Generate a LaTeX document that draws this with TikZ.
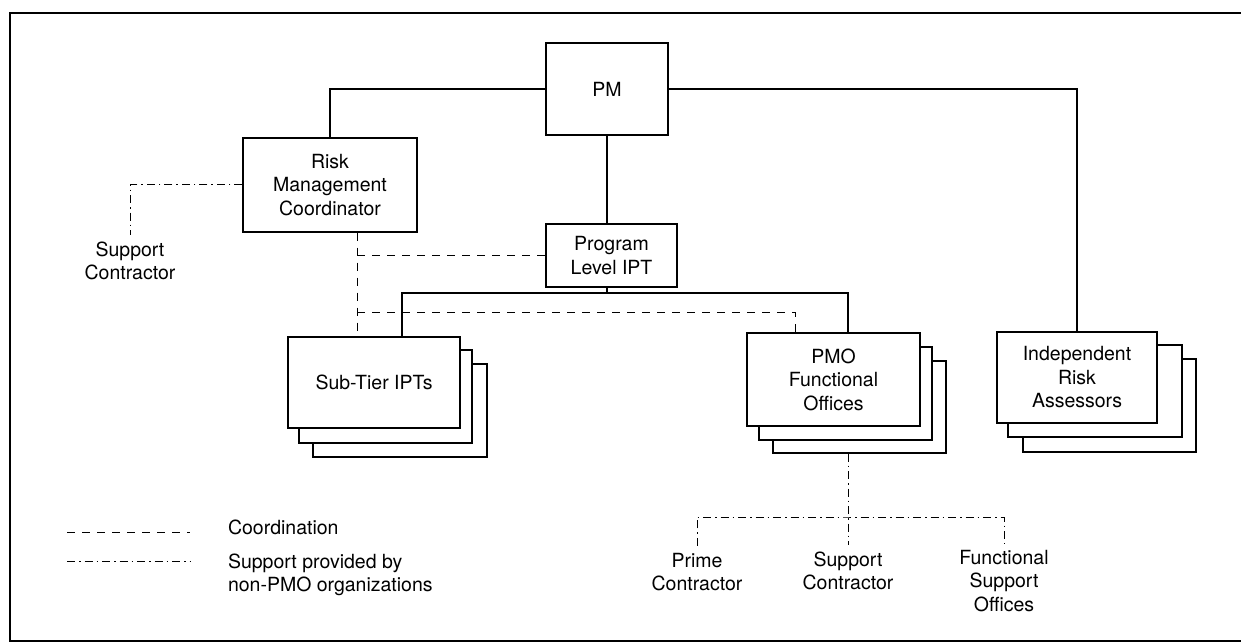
\documentclass[tikz,border=0pt]{standalone}
\usepackage{fontspec}
\setmainfont{TeX Gyre Heros}
\usetikzlibrary{positioning}

\begin{document}
\begin{tikzpicture}
        [x=1pt, y=-1pt, line width=1.4pt,
        orgbox/.style={rectangle, draw=black, fill=white, align=center, inner sep=2pt,
            font=\fontsize{19.5}{23.5}\selectfont},
        tag/.style={align=center, inner sep=2pt, outer sep=5pt, font=\fontsize{19.5}{23.5}\selectfont},
        coordline/.style={line width=1pt, dash pattern=on 8pt off 7pt},
        supportline/.style={line width=1pt, dash pattern=on 8pt off 4pt on 1.5pt off 4pt}]
        \useasboundingbox (0,0) rectangle (1241,644);

        % frame
        \draw[line width=2.2pt] (1241,13) -- (10,13) -- (10,641) -- (1241,641);

        \node[orgbox, minimum width=122, minimum height=92]  (pm)    at (607,89)      {PM};
        \node[orgbox, minimum width=174, minimum height=94]  (rmc)   at (330,185)     {Risk\\Management\\Coordinator};
        \node[orgbox, minimum width=131, minimum height=63]  (plipt) at (611.5,255.5) {Program\\Level IPT};

        % stacks
        \node[orgbox, minimum width=174, minimum height=93]  (sub3)  at (400,410.5)   {};
        \node[orgbox, minimum width=173, minimum height=93]  (sub2)  at (385.5,396.5) {};
        \node[orgbox, minimum width=172, minimum height=91]  (sub)   at (374,382.5)   {Sub-Tier IPTs};

        \node[orgbox, minimum width=173, minimum height=92]  (pmo3)  at (859.5,407)   {};
        \node[orgbox, minimum width=173, minimum height=93]  (pmo2)  at (845.5,393.5) {};
        \node[orgbox, minimum width=173, minimum height=93]  (pmo)   at (833.5,379.5) {PMO\\Functional\\Offices};

        \node[orgbox, minimum width=173, minimum height=93]  (ira3)  at (1109.5,405.5) {};
        \node[orgbox, minimum width=174, minimum height=92]  (ira2)  at (1095,391)     {};
        \node[orgbox, minimum width=160, minimum height=91]  (ira)   at (1077,377.5)   {Independent\\Risk\\Assessors};

        % support organizations
        \node[tag]  (rmcsup)  at (130,261)  {Support\\Contractor};
        \node[tag]  (prime)   at (697,572)  {Prime\\Contractor};
        \node[tag]  (pmosup)  at (848,571)  {Support\\Contractor};
        \node[tag]  (funcsup) at (1004,581) {Functional\\Support\\Offices};

        % legend
        \node[tag, anchor=west, align=left]  (lgcoord) at (221,527) {Coordination};
        \node[tag, anchor=west, align=left]  (lgsup)   at (221,575) {Support provided by\\non-PMO organizations};
        \coordinate (lgc1) at (67,532);
        \coordinate (lgc2) at (190,532);
        \coordinate (lgs1) at (67,561);
        \coordinate (lgs2) at (190,561);
        \draw[coordline]   (lgc1) -- (lgc2);
        \draw[supportline] (lgs1) -- (lgs2);

        % line of authority
        \coordinate (bus) at (607,293);
        \draw (pm.west) -| (rmc.north);
        \draw (pm.east) -| (ira.north);
        \draw (pm.south) -- (pm.south |- plipt.north);
        \draw (pm.south |- plipt.south) -- (bus);
        \draw ([xshift=28pt]sub.north) |- (bus) -| ([xshift=14.5pt]pmo.north);

        % coordination
        \coordinate (rmcdash) at ([xshift=27pt]rmc.south);
        \coordinate (pmodash) at ([xshift=-38.5pt]pmo.north);
        \draw[coordline] (rmcdash) -- (rmcdash |- sub.north);
        \draw[coordline] (rmcdash |- plipt.west) -- (plipt.west);
        \draw[coordline] (rmcdash |- 0,312) -| (pmodash);

        % support
        \coordinate (pmobus) at (848,517);
        \draw[supportline] (rmc.west) -| (rmcsup.north);
        \draw[supportline] (pmo3.south -| pmobus) -- (pmosup.north);
        \draw[supportline] (prime.north) |- (pmobus) -| (funcsup.north);
\end{tikzpicture}
\end{document}
